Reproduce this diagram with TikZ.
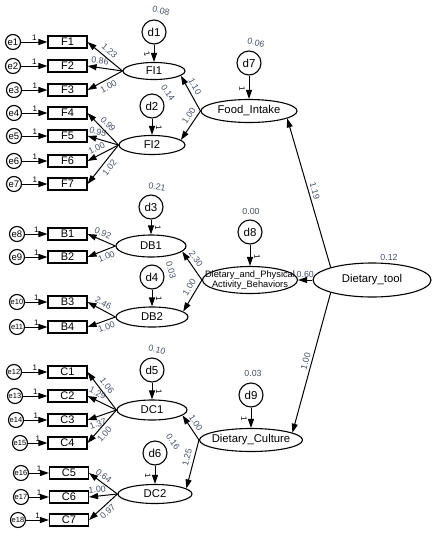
\documentclass[tikz,border=0pt]{standalone}
\usepackage{fontspec}
\setmainfont{Liberation Sans}
\usetikzlibrary{arrows.meta,shapes.geometric}
\definecolor{coefcol}{RGB}{70,80,100}

\begin{document}
\begin{tikzpicture}[x=1pt,y=-1pt,
  arr/.style={-{Triangle[length=9pt,width=6pt]},line width=1pt},
  ind/.style={draw,line width=1.1pt,minimum width=39pt,minimum height=12pt,inner sep=0pt,font=\fontsize{11}{12}\selectfont},
  err/.style={draw,circle,line width=1.1pt,minimum size=15pt,inner sep=0pt,font=\fontsize{9.5}{10}\selectfont},
  dist/.style={draw,circle,line width=1.1pt,minimum size=24pt,inner sep=0pt,font=\fontsize{11.5}{12}\selectfont},
  lat/.style={draw,ellipse,line width=1.1pt,inner sep=0pt},
  lattext/.style={font=\fontsize{11.3}{12}\selectfont,inner sep=0pt},
  coef/.style={font=\fontsize{8.8}{9}\selectfont,text=coefcol,sloped,inner sep=1.5pt},
  one/.style={font=\fontsize{8}{9}\selectfont,inner sep=1pt},
  var/.style={font=\fontsize{8.8}{9}\selectfont,text=coefcol,inner sep=0pt}]
\useasboundingbox (0,0) rectangle (434,533);
% second order and first order factors
\node[lat,minimum width=118pt,minimum height=34pt,label={[lattext]center:Dietary\_tool}] (tool) at (372,280) {};
\node[lat,minimum width=96pt,minimum height=23pt,label={[lattext]center:Food\_Intake}] (food) at (249,111) {};
\node[lat,minimum width=95pt,minimum height=27pt,label={[lattext,align=center,font=\fontsize{9.3}{10}\selectfont]center:Dietary\_and\_Physical\\Activity\_Behaviors}] (dapb) at (250,280) {};
\node[lat,minimum width=103pt,minimum height=23pt,label={[lattext]center:Dietary\_Culture}] (culture) at (251,440) {};
\node[lat,minimum width=62pt,minimum height=17pt,label={[lattext]center:FI1}] (fi1) at (154,71) {};
\node[lat,minimum width=66pt,minimum height=19pt,label={[lattext]center:FI2}] (fi2) at (152,145) {};
\node[lat,minimum width=70pt,minimum height=22pt,label={[lattext]center:DB1}] (db1) at (151,246) {};
\node[lat,minimum width=72pt,minimum height=20pt,label={[lattext]center:DB2}] (db2) at (152,317) {};
\node[lat,minimum width=70pt,minimum height=20pt,label={[lattext]center:DC1}] (dc1) at (152,410) {};
\node[lat,minimum width=74pt,minimum height=19pt,label={[lattext]center:DC2}] (dc2) at (155,494) {};
% disturbances
\node[dist] (d1) at (154,32) {d1};
\node[dist] (d2) at (152,106) {d2};
\node[dist] (d3) at (151,207) {d3};
\node[dist] (d4) at (152,277) {d4};
\node[dist] (d5) at (152,370) {d5};
\node[dist] (d6) at (155,453) {d6};
\node[dist] (d7) at (249,63) {d7};
\node[dist] (d8) at (250,232) {d8};
\node[dist] (d9) at (251,395) {d9};
% variances
\node[var,rotate=-15] (v1) at (161,11) {0.08};
\node[var,rotate=-55] (v2) at (168,93) {0.14};
\node[var,rotate=-10] (v3) at (157,187) {0.21};
\node[var,rotate=-75] (v4) at (171,270) {0.03};
\node[var,rotate=-15] (v5) at (157,350) {0.10};
\node[var,rotate=-55] (v6) at (173,442) {0.16};
\node[var,rotate=-15] (v7) at (256,43) {0.06};
\node[var] (v8) at (251,211) {0.00};
\node[var] (v9) at (253,373) {0.03};
\node[var] (vt) at (389,257) {0.12};
% structural paths
\draw[arr] (tool.163) -- node[coef,above=1pt,pos=0.5]{1.19} (food.-11);
\draw[arr] (tool.west) -- node[coef,above,pos=0.5]{0.60} (dapb.east);
\draw[arr] (tool.197) -- node[coef,above=1pt,pos=0.5]{1.00} (culture.10);
\draw[arr] (food.west) -- node[coef,above=2pt,pos=0.6]{1.10} (fi1.-10);
\draw[arr] (food.west) -- node[coef,above=2pt,pos=0.3]{1.00} (fi2.10);
\draw[arr] (dapb.west) -- node[coef,above=2pt,pos=0.6]{2.30} (db1.-10);
\draw[arr] (dapb.west) -- node[coef,above=2pt,pos=0.35]{1.00} (db2.10);
\draw[arr] (culture.west) -- node[coef,above=2pt,pos=0.55]{1.00} (dc1.-10);
\draw[arr] (culture.west) -- node[coef,above=2pt,pos=0.4]{1.25} (dc2.10);
% disturbance paths
\draw[arr] (d1) -- node[one,pos=0.55,xshift=-7pt,rotate=-75]{1} (fi1);
\draw[arr] (d2) -- node[one,pos=0.55,xshift=7pt,rotate=-90]{1} (fi2);
\draw[arr] (d3) -- node[one,pos=0.55,xshift=7pt,rotate=-90]{1} (db1);
\draw[arr] (d4) -- node[one,pos=0.55,xshift=7pt,rotate=-90]{1} (db2);
\draw[arr] (d5) -- node[one,pos=0.55,xshift=7pt,rotate=-90]{1} (dc1);
\draw[arr] (d6) -- node[one,pos=0.55,xshift=-7pt,rotate=-90]{1} (dc2);
\draw[arr] (d7) -- node[one,pos=0.55,xshift=-7pt,rotate=-90]{1} (food);
\draw[arr] (d8) -- node[one,pos=0.55,xshift=7pt,rotate=-90]{1} (dapb);
\draw[arr] (d9) -- node[one,pos=0.55,xshift=-7pt,rotate=-90]{1} (culture);
% food intake items
\foreach \i/\ex/\y/\w/\s/\p in {1/13/42/1.23/above/0.5,2/13/66/0.86/above/0.67,3/14/90/1.00/below/0.5}{
  \node[err] (e\i) at (\ex,\y) {e\i};
  \node[ind] (F\i) at (67.5,\y) {F\i};
  \draw[arr] (e\i) -- node[one,above]{1} (F\i);
  \draw[arr] (fi1.west) -- node[coef,\s=2pt,pos=\p]{\w} (F\i.east);
}
\foreach \i/\ex/\y/\w/\s/\p in {4/14/113/0.99/above/0.5,5/14/136/0.95/above/0.73,6/14/161/1.00/above/0.6,7/14/184/1.02/below/0.47}{
  \node[err] (e\i) at (\ex,\y) {e\i};
  \node[ind] (F\i) at (67.5,\y) {F\i};
  \draw[arr] (e\i) -- node[one,above]{1} (F\i);
  \draw[arr] (fi2.west) -- node[coef,\s=2pt,pos=\p]{\w} (F\i.east);
}
% behaviour items
\foreach \i/\b/\ex/\y/\w/\s/\p in {8/1/17/234/0.92/above/0.54,9/2/17/257/1.00/below/0.41}{
  \node[err] (e\i) at (\ex,\y) {e\i};
  \node[ind] (B\b) at (67.5,\y) {B\b};
  \draw[arr] (e\i) -- node[one,above]{1} (B\b);
  \draw[arr] (db1.west) -- node[coef,\s=1.5pt,pos=\p]{\w} (B\b.east);
}
\foreach \i/\b/\ex/\y/\w/\s/\p in {10/3/17/302/2.46/above/0.55,11/4/17/327/1.00/below/0.4}{
  \node[err] (e\i) at (\ex,\y) {\fontsize{7.5}{8}\selectfont e\i};
  \node[ind] (B\b) at (67.5,\y) {B\b};
  \draw[arr] (e\i) -- node[one,above]{1} (B\b);
  \draw[arr] (db2.west) -- node[coef,\s=1.5pt,pos=\p]{\w} (B\b.east);
}
% culture items
\foreach \i/\c/\ex/\y/\w/\s/\p in {12/1/14/372/1.06/above/0.52,13/2/15/396/1.29/above/0.76,14/3/16/420/1.37/below/0.72,15/4/20/443/1.00/below/0.6}{
  \node[err] (e\i) at (\ex,\y) {\fontsize{7.5}{8}\selectfont e\i};
  \node[ind] (C\c) at (67.5,\y) {C\c};
  \draw[arr] (e\i) -- node[one,above]{1} (C\c);
  \draw[arr] (dc1.west) -- node[coef,\s=2pt,pos=\p]{\w} (C\c.east);
}
\foreach \i/\c/\ex/\y/\w/\s/\p in {16/5/21/473/0.64/above/0.62,17/6/21/497/1.00/above/0.69,18/7/18/520/0.97/below/0.5}{
  \node[err] (e\i) at (\ex,\y) {\fontsize{7.5}{8}\selectfont e\i};
  \node[ind] (C\c) at (69,\y) {C\c};
  \draw[arr] (e\i) -- node[one,above]{1} (C\c);
  \draw[arr] (dc2.west) -- node[coef,\s=1.5pt,pos=\p]{\w} (C\c.east);
}
\end{tikzpicture}
\end{document}
